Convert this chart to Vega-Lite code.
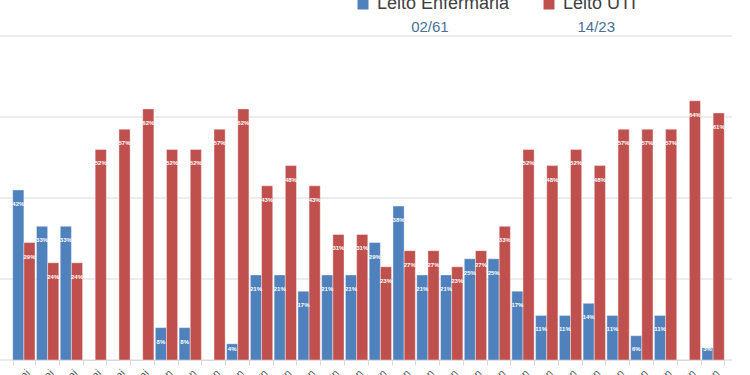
{
  "$schema": "https://vega.github.io/schema/vega-lite/v6.json",
  "width": 732,
  "height": 324,
  "autosize": {"type": "none"},
  "padding": {"left": 0, "top": 36, "right": 18, "bottom": 15},
  "background": "white",
  "config": {"view": {"stroke": null}, "font": "Liberation Sans"},
  "data": {
    "values": [
      {"date": "26/mai", "tipo": "Leito Enfermaria", "valor": 0.42},
      {"date": "26/mai", "tipo": "Leito UTI", "valor": 0.29},
      {"date": "27/mai", "tipo": "Leito Enfermaria", "valor": 0.33},
      {"date": "27/mai", "tipo": "Leito UTI", "valor": 0.24},
      {"date": "28/mai", "tipo": "Leito Enfermaria", "valor": 0.33},
      {"date": "28/mai", "tipo": "Leito UTI", "valor": 0.24},
      {"date": "29/mai", "tipo": "Leito UTI", "valor": 0.52},
      {"date": "30/mai", "tipo": "Leito UTI", "valor": 0.57},
      {"date": "31/mai", "tipo": "Leito UTI", "valor": 0.62},
      {"date": "01/jun", "tipo": "Leito Enfermaria", "valor": 0.08},
      {"date": "01/jun", "tipo": "Leito UTI", "valor": 0.52},
      {"date": "02/jun", "tipo": "Leito Enfermaria", "valor": 0.08},
      {"date": "02/jun", "tipo": "Leito UTI", "valor": 0.52},
      {"date": "03/jun", "tipo": "Leito UTI", "valor": 0.57},
      {"date": "04/jun", "tipo": "Leito Enfermaria", "valor": 0.04},
      {"date": "04/jun", "tipo": "Leito UTI", "valor": 0.62},
      {"date": "05/jun", "tipo": "Leito Enfermaria", "valor": 0.21},
      {"date": "05/jun", "tipo": "Leito UTI", "valor": 0.43},
      {"date": "06/jun", "tipo": "Leito Enfermaria", "valor": 0.21},
      {"date": "06/jun", "tipo": "Leito UTI", "valor": 0.48},
      {"date": "07/jun", "tipo": "Leito Enfermaria", "valor": 0.17},
      {"date": "07/jun", "tipo": "Leito UTI", "valor": 0.43},
      {"date": "08/jun", "tipo": "Leito Enfermaria", "valor": 0.21},
      {"date": "08/jun", "tipo": "Leito UTI", "valor": 0.31},
      {"date": "09/jun", "tipo": "Leito Enfermaria", "valor": 0.21},
      {"date": "09/jun", "tipo": "Leito UTI", "valor": 0.31},
      {"date": "10/jun", "tipo": "Leito Enfermaria", "valor": 0.29},
      {"date": "10/jun", "tipo": "Leito UTI", "valor": 0.23},
      {"date": "11/jun", "tipo": "Leito Enfermaria", "valor": 0.38},
      {"date": "11/jun", "tipo": "Leito UTI", "valor": 0.27},
      {"date": "12/jun", "tipo": "Leito Enfermaria", "valor": 0.21},
      {"date": "12/jun", "tipo": "Leito UTI", "valor": 0.27},
      {"date": "13/jun", "tipo": "Leito Enfermaria", "valor": 0.21},
      {"date": "13/jun", "tipo": "Leito UTI", "valor": 0.23},
      {"date": "14/jun", "tipo": "Leito Enfermaria", "valor": 0.25},
      {"date": "14/jun", "tipo": "Leito UTI", "valor": 0.27},
      {"date": "15/jun", "tipo": "Leito Enfermaria", "valor": 0.25},
      {"date": "15/jun", "tipo": "Leito UTI", "valor": 0.33},
      {"date": "16/jun", "tipo": "Leito Enfermaria", "valor": 0.17},
      {"date": "16/jun", "tipo": "Leito UTI", "valor": 0.52},
      {"date": "17/jun", "tipo": "Leito Enfermaria", "valor": 0.11},
      {"date": "17/jun", "tipo": "Leito UTI", "valor": 0.48},
      {"date": "18/jun", "tipo": "Leito Enfermaria", "valor": 0.11},
      {"date": "18/jun", "tipo": "Leito UTI", "valor": 0.52},
      {"date": "19/jun", "tipo": "Leito Enfermaria", "valor": 0.14},
      {"date": "19/jun", "tipo": "Leito UTI", "valor": 0.48},
      {"date": "20/jun", "tipo": "Leito Enfermaria", "valor": 0.11},
      {"date": "20/jun", "tipo": "Leito UTI", "valor": 0.57},
      {"date": "21/jun", "tipo": "Leito Enfermaria", "valor": 0.06},
      {"date": "21/jun", "tipo": "Leito UTI", "valor": 0.57},
      {"date": "22/jun", "tipo": "Leito Enfermaria", "valor": 0.11},
      {"date": "22/jun", "tipo": "Leito UTI", "valor": 0.57},
      {"date": "23/jun", "tipo": "Leito UTI", "valor": 0.64},
      {"date": "24/jun", "tipo": "Leito Enfermaria", "valor": 0.03},
      {"date": "24/jun", "tipo": "Leito UTI", "valor": 0.61}
    ]
  },
  "encoding": {
    "x": {
      "field": "date",
      "type": "nominal",
      "scale": {
        "domain": ["26/mai","27/mai","28/mai","29/mai","30/mai","31/mai","01/jun","02/jun","03/jun","04/jun","05/jun","06/jun","07/jun","08/jun","09/jun","10/jun","11/jun","12/jun","13/jun","14/jun","15/jun","16/jun","17/jun","18/jun","19/jun","20/jun","21/jun","22/jun","23/jun","24/jun"],
        "range": [12, 725],
        "paddingInner": 0.06,
        "paddingOuter": 0.03
      },
      "axis": {
        "title": null,
        "labelAngle": -45,
        "tickBand": "extent",
        "grid": false,
        "domainColor": "#d9d9d9",
        "tickColor": "#d9d9d9",
        "tickSize": 5,
        "labelColor": "#595959",
        "labelFontSize": 11,
        "labelPadding": 2
      }
    }
  },
  "layer": [
    {
      "data": {"values": [{"g": 0}, {"g": 0.2}, {"g": 0.4}, {"g": 0.6}, {"g": 0.8}]},
      "mark": {"type": "rule", "color": "#d9d9d9", "strokeWidth": 1},
      "encoding": {
        "x": null,
        "y": {"field": "g", "type": "quantitative"}
      }
    },
    {
      "mark": {"type": "bar", "stroke": "white", "strokeWidth": 0.4},
      "encoding": {
        "xOffset": {"field": "tipo", "type": "nominal", "scale": {"domain": ["Leito Enfermaria", "Leito UTI"], "paddingInner": 0, "paddingOuter": 0}},
        "y": {
          "field": "valor",
          "type": "quantitative",
          "scale": {"domain": [0, 0.8], "nice": false},
          "axis": {"title": null, "labels": false, "ticks": false, "domain": false, "grid": false}
        },
        "color": {
          "field": "tipo",
          "type": "nominal",
          "scale": {"domain": ["Leito Enfermaria", "Leito UTI"], "range": ["#4F81BD", "#C0504D"]},
          "legend": {
            "orient": "none",
            "legendX": 354,
            "legendY": -41,
            "direction": "horizontal",
            "title": null,
            "symbolType": "square",
            "symbolSize": 121,
            "symbolStrokeWidth": 0,
            "symbolOpacity": 1,
            "labelFontSize": 18,
            "labelColor": "#404040",
            "labelFont": "Liberation Sans",
            "labelOffset": 5,
            "columnPadding": 30,
            "padding": 0
          }
        }
      }
    },
    {
      "transform": [{"filter": "datum.valor >= 0.07"}],
      "mark": {"type": "text", "dy": 14, "color": "white", "fontSize": 6, "fontWeight": "bold", "baseline": "middle"},
      "encoding": {
        "xOffset": {"field": "tipo", "type": "nominal"},
        "y": {"field": "valor", "type": "quantitative"},
        "text": {"field": "valor", "type": "quantitative", "format": ".0%"}
      }
    },
    {
      "transform": [{"filter": "datum.valor < 0.07"}],
      "mark": {"type": "text", "dy": -11, "color": "white", "fontSize": 6, "fontWeight": "bold", "baseline": "middle"},
      "encoding": {
        "xOffset": {"field": "tipo", "type": "nominal"},
        "y": {"datum": 0},
        "text": {"field": "valor", "type": "quantitative", "format": ".0%"}
      }
    },
    {
      "data": {"values": [{"date": "12/jun", "txt": "02/61"}, {"date": "19/jun", "txt": "14/23"}]},
      "mark": {"type": "text", "fontSize": 15, "color": "#4A6F99", "baseline": "alphabetic", "align": "center", "dx": 2},
      "encoding": {
        "y": {"datum": 0.811},
        "text": {"field": "txt", "type": "nominal"}
      }
    }
  ]
}
